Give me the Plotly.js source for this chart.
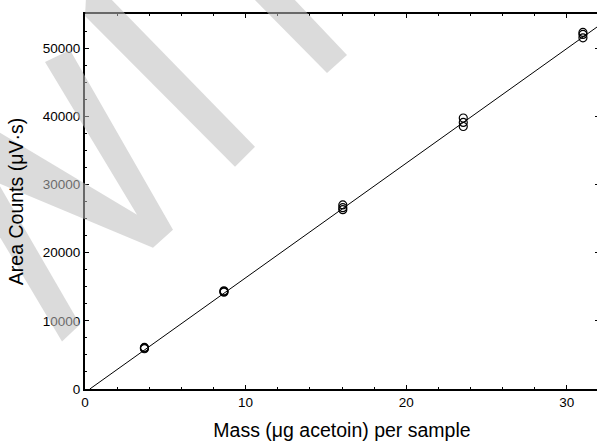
<!DOCTYPE html>
<html>
<head>
<meta charset="utf-8">
<script src="https://cdn.plot.ly/plotly-3.0.1.min.js"></script>
<style>
html,body{margin:0;padding:0;overflow:hidden;background:#fff;width:597px;height:441px;}
#chart{width:600px;height:441px;}
</style>
</head>
<body>
<div id="chart"></div>
<script>
// --- data ---
const massX = [3.7, 3.7, 3.7, 8.65, 8.65, 8.65, 16.05, 16.05, 16.05, 23.55, 23.55, 23.55, 31.0, 31.0, 31.0];
const areaY = [5900, 6000, 6100, 14200, 14300, 14400, 26300, 26600, 27000, 38500, 39100, 39750, 51500, 52000, 52300];
const fitX = [0.3, 32];
const fitY = [0, 53300];
const xTickVals = [0, 10, 20, 30];
const xTickText = ['0', '10', '20', '30'];
const yTickVals = [0, 10000, 20000, 30000, 40000, 50000];
const yTickText = ['0', '10000', '20000', '30000', '40000', '50000'];

const W = 600, H = 441;
const M = {l: 85, r: 1, t: 14, b: 51.5};
const pw = W - M.l - M.r, ph = H - M.t - M.b;
function px(x){ return ((x - M.l) / pw).toFixed(4); }
function py(y){ return ((H - M.b - y) / ph).toFixed(4); }
function poly(pts){
  return 'M ' + pts.map(p => px(p[0]) + ',' + py(p[1])).join(' L ') + ' Z';
}
// watermark bands (decoration, pixel outlines)
const marks = [
  [[86,-2],[110,-2],[255,147],[235,167],[85,16]],
  [[253,-2],[293,-2],[347,55],[327,73]],
  [[45,62],[70,50],[173,230],[153,248],[-5,182],[-5,130],[137,215]],
  [[62,342],[80,325],[-20,152],[-40,170]]
];
const shapes = marks.map(m => ({
  type: 'path', xref: 'paper', yref: 'paper', path: poly(m),
  fillcolor: 'rgb(190,190,190)', opacity: 0.55, line: {width: 0}, layer: 'above'
}));

const font = 'Liberation Sans, Arial, sans-serif';
const traces = [
  {x: fitX, y: fitY, mode: 'lines', line: {color: 'black', width: 1}, hoverinfo: 'skip', showlegend: false},
  {x: massX, y: areaY, mode: 'markers', marker: {symbol: 'circle-open', size: 8, color: 'black', line: {width: 1.2, color: 'black'}}, showlegend: false}
];
const axisBase = {
  showgrid: false, zeroline: false, showline: true, linecolor: 'black', linewidth: 2,
  mirror: 'ticks', ticks: 'inside', ticklen: 4, tickwidth: 1, tickcolor: 'black',
  tickmode: 'array',
  tickfont: {family: font, size: 13.5, color: 'black'}
};
const layout = {
  width: W, height: H, margin: M,
  paper_bgcolor: 'white', plot_bgcolor: 'white', showlegend: false,
  xaxis: Object.assign({}, axisBase, {
    range: [0, 32], tickvals: xTickVals, ticktext: xTickText,
    minor: {dtick: 2, ticks: 'inside', ticklen: 2, tickcolor: 'black', tickwidth: 1},
    title: {text: 'Mass (μg acetoin) per sample', font: {family: font, size: 19.5, color: 'black'}, standoff: 18}
  }),
  yaxis: Object.assign({}, axisBase, {
    range: [0, 55000], tickvals: yTickVals, ticktext: yTickText,
    minor: {dtick: 2500, ticks: 'inside', ticklen: 2, tickcolor: 'black', tickwidth: 1},
    title: {text: 'Area Counts (μV·s)', font: {family: font, size: 19.5, color: 'black'}, standoff: 14}
  }),
  shapes: shapes
};
Plotly.newPlot('chart', traces, layout, {staticPlot: true, displayModeBar: false});
</script>
</body>
</html>
